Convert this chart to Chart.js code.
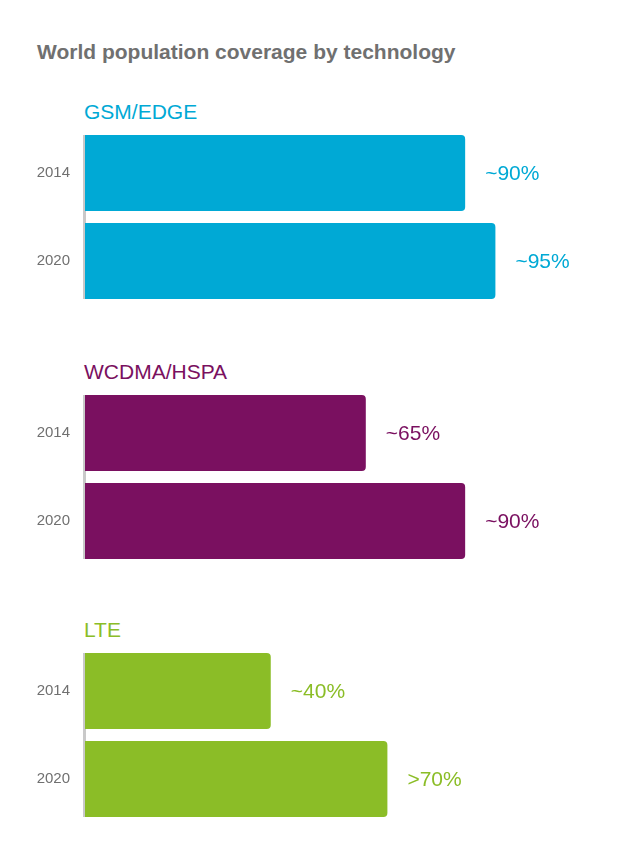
<!DOCTYPE html>
<html>
<head>
<meta charset="utf-8">
<script src="https://cdn.jsdelivr.net/npm/chart.js@4/dist/chart.umd.min.js"></script>
<style>
  body { margin: 0; background: #fff; font-family: "Liberation Sans", Arial, sans-serif; }
  #page { position: relative; width: 620px; height: 861px; overflow: hidden; }
  .title { position: absolute; left: 37px; top: 40px; font-size: 21px; font-weight: bold; color: #707070; white-space: nowrap; }
  .heading { position: absolute; left: 84px; font-size: 21px; white-space: nowrap; }
  .grp { position: absolute; left: 0; width: 620px; height: 176px; }
  .grp canvas { display: block; }
</style>
</head>
<body>
<div id="page">
  <div class="title">World population coverage by technology</div>
</div>
<script>
// data
const years = ["2014", "2020"];
const technologies = ["GSM/EDGE", "WCDMA/HSPA", "LTE"];
const gsmValues = [88, 95];
const wcdmaValues = [65, 88];
const lteValues = [43, 70];
const gsmLabels = ["~90%", "~95%"];
const wcdmaLabels = ["~65%", "~90%"];
const lteLabels = ["~40%", ">70%"];

const groups = [
  { name: technologies[0], values: gsmValues, labels: gsmLabels, color: "#00a9d5", top: 129 },
  { name: technologies[1], values: wcdmaValues, labels: wcdmaLabels, color: "#7a1060", top: 389 },
  { name: technologies[2], values: lteValues, labels: lteLabels, color: "#8bbd27", top: 647 }
];

const page = document.getElementById("page");

// gray axis line from first bar top to last bar bottom
const axisLine = {
  id: "axisLine",
  beforeDatasetsDraw(chart) {
    const meta = chart.getDatasetMeta(0);
    const first = meta.data[0], last = meta.data[meta.data.length - 1];
    const ctx = chart.ctx;
    const y0 = first.y - first.height / 2;
    const y1 = last.y + last.height / 2;
    ctx.save();
    ctx.fillStyle = "#c9c9c9";
    ctx.fillRect(chart.chartArea.left - 2, y0, 3, y1 - y0);
    ctx.restore();
  }
};

// value labels right of the bars
const valueLabels = {
  id: "valueLabels",
  afterDatasetsDraw(chart) {
    const ds = chart.data.datasets[0];
    const ctx = chart.ctx;
    ctx.save();
    ctx.font = '21px "Liberation Sans", Arial, sans-serif';
    ctx.fillStyle = ds.backgroundColor;
    ctx.textBaseline = "middle";
    chart.getDatasetMeta(0).data.forEach((bar, i) => {
      ctx.fillText(ds.valueText[i], bar.x + 20, bar.y + 1);
    });
    ctx.restore();
  }
};

groups.forEach((g) => {
  const h = document.createElement("div");
  h.className = "heading";
  h.style.color = g.color;
  h.style.top = (g.top - 29) + "px";
  h.textContent = g.name;
  page.appendChild(h);

  const wrap = document.createElement("div");
  wrap.className = "grp";
  wrap.style.top = g.top + "px";
  const canvas = document.createElement("canvas");
  canvas.width = 620;
  canvas.height = 176;
  wrap.appendChild(canvas);
  page.appendChild(wrap);

  new Chart(canvas, {
    type: "bar",
    data: {
      labels: years,
      datasets: [{
        data: g.values,
        valueText: g.labels,
        backgroundColor: g.color,
        borderSkipped: false,
        borderRadius: { topLeft: 0, bottomLeft: 0, topRight: 4, bottomRight: 4 },
        categoryPercentage: 1,
        barPercentage: 76 / 88
      }]
    },
    options: {
      indexAxis: "y",
      responsive: false,
      animation: false,
      layout: { padding: { left: 0, right: 103, top: 0, bottom: 0 } },
      plugins: { legend: { display: false }, tooltip: { enabled: false } },
      scales: {
        x: { display: false, min: 0, max: 100 },
        y: {
          grid: { display: false },
          border: { display: false },
          ticks: {
            color: "#707070",
            padding: 7,
            font: { family: '"Liberation Sans", Arial, sans-serif', size: 15 }
          },
          afterFit(scale) {
            scale.width = 85;
            scale.paddingTop = 0;
            scale.paddingBottom = 0;
          }
        }
      }
    },
    plugins: [axisLine, valueLabels]
  });
});
</script>
</body>
</html>
